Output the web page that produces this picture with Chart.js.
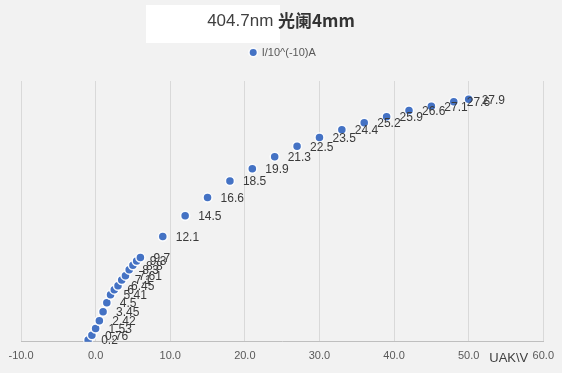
<!DOCTYPE html>
<html>
<head>
<meta charset="utf-8">
<script src="https://cdn.jsdelivr.net/npm/chart.js@4"></script>
<style>
    html, body { margin: 0; padding: 0; background: #f2f2f2; }
    #wrap { width: 562px; height: 373px; }
</style>
</head>
<body>
<div id="wrap"><canvas id="chart"></canvas></div>
<script>
// UAK in volts, photocurrent in units of 10^-10 A
const uak = [-1, -0.5, 0, 0.5, 1, 1.5, 2, 2.5, 3, 3.5, 4, 4.5, 5, 5.5, 6,
    9, 12, 15, 18, 21, 24, 27, 30, 33, 36, 39, 42, 45, 48, 50];
const current = [0.2, 0.76, 1.53, 2.42, 3.45, 4.5, 5.41, 6.0, 6.45, 7.1, 7.61, 8.3, 8.8, 9.3, 9.7,
    12.1, 14.5, 16.6, 18.5, 19.9, 21.3, 22.5, 23.5, 24.4, 25.2, 25.9, 26.6, 27.1, 27.6, 27.9];
const seriesName = 'I/10^(-10)A';
const titleMain = '404.7nm ';
const titleBold = '光阑4mm';
const xTitle = 'UAK\\V';

const points = uak.map((u, i) => ({x: u, y: current[i]}));

// background + white title box + two-weight title
const titlePlugin = {
    id: 'titlePlugin',
    beforeDraw(chart) {
        const ctx = chart.ctx;
        ctx.save();
        ctx.fillStyle = '#f2f2f2';
        ctx.fillRect(0, 0, chart.width, chart.height);
        ctx.fillStyle = '#ffffff';
        ctx.fillRect(146, 5, 134, 38);
        ctx.restore();
    },
    afterDraw(chart) {
        const ctx = chart.ctx;
        ctx.save();
        ctx.textBaseline = 'middle';
        ctx.font = '17px "Liberation Sans", Arial, sans-serif';
        const w1 = ctx.measureText(titleMain).width;
        ctx.font = 'bold 17px "Noto Sans CJK SC", "Liberation Sans", sans-serif';
        const w2 = ctx.measureText(titleBold).width;
        let x = chart.width / 2 - (w1 + w2) / 2;
        ctx.fillStyle = '#404040';
        ctx.font = '17px "Liberation Sans", Arial, sans-serif';
        ctx.fillText(titleMain, x, 21);
        ctx.fillStyle = '#333333';
        ctx.font = 'bold 17px "Noto Sans CJK SC", "Liberation Sans", sans-serif';
        ctx.fillText(titleBold, x + w1, 21);

        // axis title sits left of the last tick label
        const area = chart.chartArea;
        ctx.font = '13px "Liberation Sans", Arial, sans-serif';
        ctx.fillStyle = '#404040';
        ctx.textAlign = 'right';
        ctx.fillText(xTitle, area.right - 15, area.bottom + 17);
        ctx.restore();
    }
};

// value labels to the right of each point
const valueLabels = {
    id: 'valueLabels',
    afterDatasetsDraw(chart) {
        const ctx = chart.ctx;
        const meta = chart.getDatasetMeta(0);
        ctx.save();
        ctx.font = '12px "Liberation Sans", Arial, sans-serif';
        ctx.fillStyle = '#3a3a3a';
        ctx.textBaseline = 'middle';
        meta.data.forEach((pt, i) => {
            ctx.fillText(String(current[i]), pt.x + 13, pt.y + 1);
        });
        ctx.restore();
    }
};

// extra room under the legend
const legendGap = {
    id: 'legendGap',
    beforeInit(chart) {
        const fit = chart.legend.fit;
        chart.legend.fit = function () {
            fit.bind(this)();
            this.height += 13;
        };
    }
};

const config = {
    type: 'scatter',
    data: {
        datasets: [{
                label: seriesName,
                data: points,
                backgroundColor: '#4472C4',
                borderColor: 'rgba(255,255,255,0.95)',
                pointRadius: 4.5,
                pointBorderWidth: 1.5,
                pointHoverRadius: 4.5
            }]
    },
    options: {
        responsive: true,
        maintainAspectRatio: false,
        animation: false,
        layout: {
            padding: {left: 21, right: 17, top: 37, bottom: 2}
        },
        plugins: {
            title: {display: false},
            tooltip: {enabled: false},
            legend: {
                display: true,
                position: 'top',
                labels: {
                    usePointStyle: true,
                    pointStyle: 'circle',
                    boxWidth: 6,
                    boxHeight: 6,
                    padding: 10,
                    color: '#595959',
                    font: {family: '"Liberation Sans", Arial, sans-serif', size: 11}
                }
            }
        },
        scales: {
            x: {
                type: 'linear',
                min: -10,
                max: 60,
                ticks: {
                    stepSize: 10,
                    padding: 8,
                    color: '#595959',
                    font: {family: '"Liberation Sans", Arial, sans-serif', size: 11},
                    callback: v => v.toFixed(1)
                },
                grid: {color: '#d9d9d9', drawTicks: false},
                border: {color: '#bfbfbf', width: 1}
            },
            y: {
                min: 0,
                max: 30,
                display: false
            }
        }
    },
    plugins: [titlePlugin, valueLabels, legendGap]
};

let ctx = document.getElementById('chart').getContext('2d');
new Chart(ctx, config);
</script>
</body>
</html>
